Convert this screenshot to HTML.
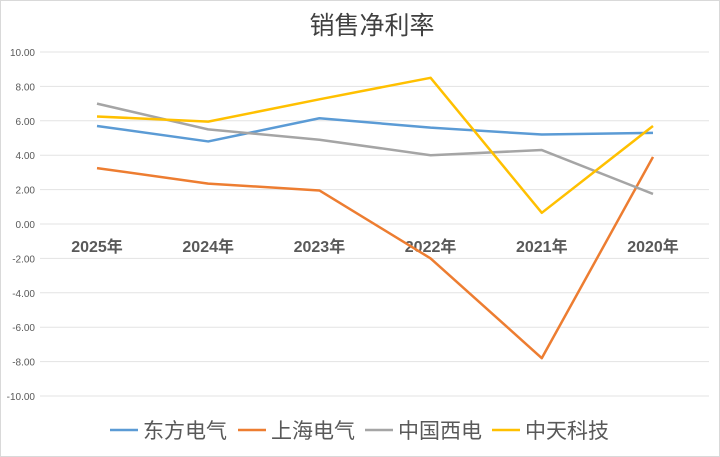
<!DOCTYPE html>
<html><head><meta charset="utf-8"><style>
body{margin:0;background:#fff;}
svg{display:block;font-family:"Liberation Sans","Noto Sans CJK SC",sans-serif;}
</style></head><body>
<svg id="c" width="720" height="457">
<rect x="0.5" y="0.5" width="719" height="456" fill="#fff" stroke="#d9d9d9"/>
<text x="372" y="34" text-anchor="middle" font-size="25" fill="#404040">销售净利率</text>
<g id="grid"></g><g id="series"></g><g id="legend"></g>
</svg>
<script>
const categories=["2025年","2024年","2023年","2022年","2021年","2020年"];
const yTicks=[10,8,6,4,2,0,-2,-4,-6,-8,-10];
const seriesNames=["东方电气","上海电气","中国西电","中天科技"];
const seriesColors=["#5B9BD5","#ED7D31","#A5A5A5","#FFC000"];
const dongfang=[5.7,4.8,6.15,5.6,5.2,5.3];
const shanghai=[3.25,2.35,1.95,-2.0,-7.8,3.9];
const xidian=[7.0,5.5,4.9,4.0,4.3,1.75];
const zhongtian=[6.25,5.95,7.25,8.5,0.65,5.7];
const seriesData=[dongfang,shanghai,xidian,zhongtian];
const NS="http://www.w3.org/2000/svg";
const y=v=>224-v*17.2;
const x=i=>97+i*111.2;
const grid=document.getElementById('grid');
yTicks.forEach(t=>{
  const l=document.createElementNS(NS,'line');
  l.setAttribute('x1',40);l.setAttribute('x2',709);l.setAttribute('y1',y(t));l.setAttribute('y2',y(t));
  l.setAttribute('stroke','#e3e3e3');l.setAttribute('stroke-width','1');
  
  
  grid.appendChild(l);
  const tx=document.createElementNS(NS,'text');
  tx.setAttribute('x',35);tx.setAttribute('y',y(t)+4);tx.setAttribute('text-anchor','end');
  tx.setAttribute('font-size','10');tx.setAttribute('fill','#595959');
  tx.textContent=t.toFixed(2);
  
  
  grid.appendChild(tx);
});
categories.forEach((c,i)=>{
  const tx=document.createElementNS(NS,'text');
  tx.setAttribute('x',x(i));tx.setAttribute('y',252);tx.setAttribute('text-anchor','middle');
  tx.setAttribute('font-size','16');tx.setAttribute('font-weight','bold');tx.setAttribute('fill','#595959');
  tx.textContent=c;
  
  
  grid.appendChild(tx);
});
const sg=document.getElementById('series');
seriesData.forEach((d,s)=>{
  const p=document.createElementNS(NS,'polyline');
  p.setAttribute('points',d.map((v,i)=>x(i)+','+y(v)).join(' '));
  p.setAttribute('fill','none');p.setAttribute('stroke',seriesColors[s]);p.setAttribute('stroke-width','2.5');
  p.setAttribute('stroke-linejoin','round');
  
  
  sg.appendChild(p);
});
const lg=document.getElementById('legend');
const lx=[110,238,365,492];
seriesNames.forEach((n,s)=>{
  const l=document.createElementNS(NS,'line');
  l.setAttribute('x1',lx[s]);l.setAttribute('x2',lx[s]+28);l.setAttribute('y1',430);l.setAttribute('y2',430);
  l.setAttribute('stroke',seriesColors[s]);l.setAttribute('stroke-width','2.5');
  
  
  lg.appendChild(l);
  const t=document.createElementNS(NS,'text');
  t.setAttribute('x',lx[s]+33);t.setAttribute('y',438);t.setAttribute('font-size','21');t.setAttribute('fill','#595959');
  t.textContent=n;
  
  
  lg.appendChild(t);
});
</script>
</body></html>
